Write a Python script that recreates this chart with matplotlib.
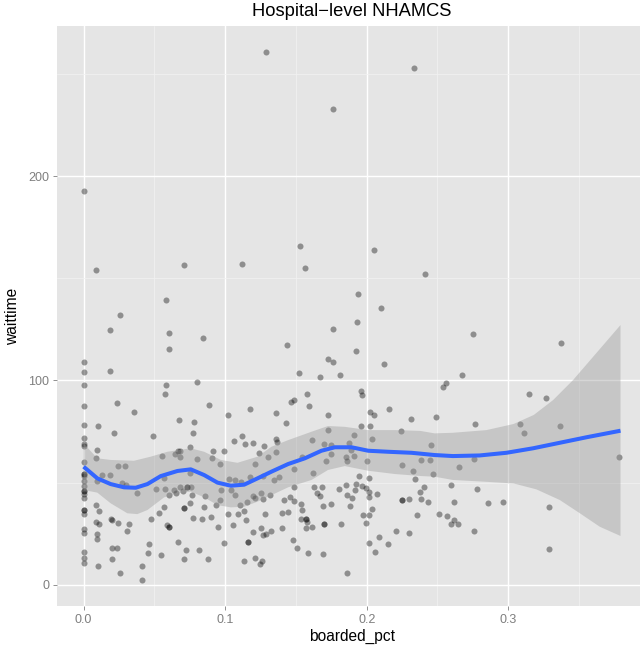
import numpy as np
import matplotlib
matplotlib.use("Agg")
import matplotlib.pyplot as plt

plt.rcParams['font.family'] = ['Liberation Sans', 'DejaVu Sans']

# boarded share vs. wait time, one row per hospital
boarded_pct = [
    0, 0, 0, 0, 0, 0, 0, 0, 0, 0, 0, 0, 0, 0, 0, 0, 0, 0, 0, 0, 0, 0, 0, 0, 0, 0, 0,
    0.0089, 0.0711, 0.1118, 0.0582, 0.0254, 0.0190,
    0.1289, 0.2336, 0.1761, 0.1530, 0.1563, 0.2054, 0.2415, 0.1941, 0.2103, 0.1934, 0.1760,
    0.0603, 0.0603, 0.0190, 0.0580, 0.0575, 0.0237, 0.0354, 0.0674, 0.0101, 0.0218, 0.0491,
    0.0094, 0.0089, 0.0556, 0.0646, 0.0669,
    0.0847, 0.1434, 0.1521, 0.0803, 0.0887, 0.0777, 0.0775, 0.1019, 0.1174, 0.1357, 0.1463,
    0.1486, 0.1430, 0.1063, 0.1122, 0.1139, 0.1195, 0.1359, 0.1366, 0.1272, 0.1239, 0.1305,
    0.1360, 0.0751, 0.0913, 0.0995, 0.0683, 0.0683, 0.0803, 0.0904,
    0.1925, 0.1730, 0.1765, 0.2122, 0.1667, 0.1810, 0.1580, 0.1589, 0.1725, 0.1960, 0.1965,
    0.2026, 0.2049, 0.2157, 0.2312, 0.1960, 0.2021, 0.1730, 0.2239, 0.1911, 0.2037, 0.1615,
    0.1700, 0.1746, 0.1873, 0.1887, 0.1746, 0.1542, 0.1854, 0.1911,
    0.2754, 0.3371, 0.2674, 0.2559, 0.2542, 0.3146, 0.3268, 0.2491, 0.2768, 0.3080, 0.3113,
    0.3364, 0.2453, 0.2382, 0.2444, 0.2758, 0.2655, 0.3780, 0.2470, 0.2596, 0.2777, 0.2404,
    0.2378, 0.2387, 0.2432, 0.2617, 0.2859, 0.2960, 0.2514, 0.2570, 0.2617, 0.2593, 0.2645,
    0.2755, 0.3289, 0.3286,
    0.0241, 0.0296, 0.0132, 0.0185, 0.0096, 0.0272, 0.0303, 0.0375, 0.0512, 0.0573, 0.0570,
    0.0603, 0.0641, 0.0653, 0.0087, 0.0106, 0.0570, 0.0530, 0.0197, 0.0200, 0.0241, 0.0087,
    0.0106, 0.0319, 0.0310, 0.0479, 0.0587, 0.0606, 0.0606, 0.0094, 0.0094, 0.0664, 0.0460,
    0.0199, 0.0239, 0.0453, 0.0547, 0.0202, 0.0099, 0.0415, 0.0254, 0.0415,
    0.0965, 0.1211, 0.0754, 0.1028, 0.1073, 0.1113, 0.1178, 0.1265, 0.1347, 0.1380, 0.1486,
    0.0681, 0.0704, 0.0730, 0.0730, 0.0760, 0.0765, 0.0861, 0.0969, 0.1039, 0.1069, 0.0966,
    0.0937, 0.0852, 0.0749, 0.0711, 0.0711, 0.1108, 0.1155, 0.1197, 0.1213, 0.1251, 0.1270,
    0.1319, 0.1134, 0.1023, 0.1094, 0.1284, 0.1415, 0.1458, 0.1486, 0.1486, 0.1403, 0.1444,
    0.0775, 0.0838, 0.0897, 0.1149, 0.0953, 0.1054, 0.1195, 0.1251, 0.1265, 0.1286, 0.1324,
    0.1401, 0.1477, 0.1507, 0.1159, 0.1159, 0.0995, 0.0725, 0.0814, 0.0711, 0.0878, 0.1134,
    0.1213, 0.1263, 0.1249,
    0.1713, 0.1859, 0.1999, 0.2249, 0.1622, 0.1949, 0.2018, 0.2324, 0.2338, 0.1629, 0.1683,
    0.1805, 0.1854, 0.1923, 0.1915, 0.1965, 0.1998, 0.2016, 0.2071, 0.1648, 0.1667, 0.1861,
    0.1899, 0.2016, 0.1537, 0.1544, 0.1750, 0.1694, 0.1879, 0.2246, 0.2246, 0.2300, 0.2040,
    0.1977, 0.2016, 0.2354, 0.1998, 0.1533, 0.1570, 0.1570, 0.1575, 0.1700, 0.1700, 0.1817,
    0.1570, 0.1617, 0.2209, 0.2298, 0.2089, 0.2016, 0.2152, 0.2056, 0.1587, 0.1690, 0.1859,
]
waittime = [
    192.8, 109.2, 103.9, 97.9, 87.3, 78.3, 71.9, 69.0, 67.8, 60.0, 54.3, 54.3, 53.4, 51.0,
    48.5, 46.0, 46.0, 44.5, 42.3, 36.8, 36.8, 34.7, 27.3, 25.6, 16.3, 12.9, 10.9,
    154.0, 156.5, 157.0, 139.5, 131.9, 124.5,
    260.6, 253.0, 232.7, 166.0, 155.0, 163.6, 152.0, 142.3, 135.3, 128.6, 125.3,
    123.0, 115.2, 104.7, 97.9, 93.5, 88.9, 84.7, 80.4, 77.9, 74.2, 72.9,
    66.0, 61.9, 63.2, 64.0, 65.7,
    120.7, 117.2, 103.6, 99.2, 87.9, 79.9, 74.4, 83.0, 85.8, 84.0, 89.6,
    90.3, 79.3, 70.6, 72.7, 69.1, 69.6, 71.2, 70.0, 67.8, 64.4, 62.7,
    64.9, 67.2, 65.5, 65.5, 65.3, 62.7, 61.4, 62.1,
    114.4, 110.3, 109.2, 107.8, 101.6, 102.6, 93.3, 87.4, 83.2, 94.6, 92.8,
    84.5, 83.0, 85.8, 80.9, 77.6, 77.6, 75.6, 75.3, 73.4, 71.2, 71.1,
    69.0, 68.3, 69.5, 66.2, 64.0, 62.4, 62.7, 62.9,
    122.9, 118.5, 102.6, 98.7, 96.9, 93.6, 91.2, 81.9, 78.6, 78.8, 74.2,
    77.5, 68.3, 61.1, 61.1, 61.6, 57.8, 62.3, 54.1, 49.0, 47.1, 47.9,
    45.6, 42.0, 40.3, 40.7, 40.0, 40.7, 34.5, 33.5, 31.5, 29.7, 30.0,
    26.5, 37.9, 17.5,
    58.0, 58.2, 53.9, 53.9, 50.6, 49.9, 48.9, 44.8, 47.1, 46.9, 52.1,
    43.8, 46.6, 44.9, 39.2, 35.9, 37.9, 35.1, 32.2, 31.8, 30.4, 30.7,
    29.6, 29.9, 26.1, 32.2, 29.3, 28.1, 28.1, 24.8, 22.2, 21.1, 20.2,
    18.1, 18.1, 15.8, 14.6, 12.4, 9.3, 9.0, 5.7, 2.3,
    59.2, 59.2, 54.6, 51.8, 51.3, 50.1, 52.6, 53.1, 51.3, 52.9, 56.9,
    47.7, 45.7, 47.7, 47.7, 47.7, 44.1, 43.5, 46.4, 46.4, 44.1, 41.5,
    39.0, 38.2, 40.2, 37.4, 37.4, 38.9, 40.4, 43.6, 42.6, 45.1, 42.2,
    44.1, 36.3, 34.7, 34.8, 34.5, 41.3, 42.8, 40.8, 47.7, 35.1, 35.4,
    32.7, 32.2, 33.3, 31.5, 28.3, 29.3, 26.0, 27.9, 24.4, 24.8, 26.1,
    27.9, 21.7, 17.8, 21.1, 21.1, 20.3, 16.8, 16.8, 12.6, 12.6, 11.6,
    13.1, 11.9, 10.4,
    60.4, 60.4, 60.6, 58.8, 54.9, 53.4, 52.3, 55.7, 51.8, 48.0, 47.7,
    47.1, 48.9, 49.5, 46.4, 48.4, 47.4, 45.6, 44.6, 44.8, 43.6, 43.8,
    42.3, 42.8, 39.6, 36.8, 39.6, 38.4, 38.4, 41.5, 41.5, 42.0, 37.1,
    34.2, 34.3, 34.0, 30.4, 32.0, 32.0, 32.0, 30.9, 29.8, 29.8, 29.8,
    27.6, 28.1, 26.5, 25.6, 23.5, 20.3, 20.0, 16.2, 15.7, 15.2, 5.9,
]

# loess fit and its 95% band
fit_x = [0, 0.0097, 0.0191, 0.0286, 0.0368, 0.0451, 0.0545, 0.0663, 0.0757, 0.0852,
         0.0946, 0.1040, 0.1134, 0.1229, 0.1328, 0.1445, 0.1563, 0.1680, 0.1775, 0.1893,
         0.2011, 0.2152, 0.2317, 0.2480, 0.2609, 0.2798, 0.2987, 0.3175, 0.3364, 0.3553,
         0.3793]
fit_y = [57.8, 52.1, 49.3, 47.7, 47.5, 49.3, 53.2, 55.7, 56.5, 53.7,
         50.0, 48.5, 49.0, 52.1, 55.4, 59.1, 61.9, 65.6, 67.3, 67.3,
         65.6, 65.1, 64.6, 63.5, 63.0, 63.3, 64.6, 66.8, 69.5, 72.2,
         75.4]
upper_x = [0, 0.0097, 0.0191, 0.0356, 0.0474, 0.0592, 0.0757, 0.0852, 0.0970, 0.1087,
           0.1229, 0.1328, 0.1445, 0.1610, 0.1727, 0.1845, 0.2011, 0.2200, 0.2380, 0.2480,
           0.2609, 0.2846, 0.3038, 0.3180, 0.3317, 0.3458, 0.3600, 0.3793]
upper_y = [69.2, 61.9, 61.1, 60.7, 62.7, 65.1, 66.8, 65.1, 61.1, 59.7,
           62.7, 67.6, 70.8, 74.9, 77.7, 77.3, 75.7, 75.7, 75.3, 74.1,
           74.4, 75.7, 78.7, 83.1, 90.4, 100.2, 111.6, 127.1]
lower_x = [0, 0.0097, 0.0191, 0.0309, 0.0380, 0.0451, 0.0569, 0.0663, 0.0757, 0.0852,
           0.0946, 0.1040, 0.1134, 0.1229, 0.1328, 0.1445, 0.1610, 0.1727, 0.1845, 0.2011,
           0.2200, 0.2389, 0.2480, 0.2609, 0.2846, 0.3038, 0.3199, 0.3364, 0.3506, 0.3647,
           0.3793]
lower_y = [46.4, 45.1, 39.9, 35.0, 34.6, 36.6, 42.8, 44.8, 45.6, 42.8,
           39.0, 37.9, 38.2, 40.7, 43.9, 47.7, 51.3, 56.2, 58.1, 55.8,
           54.2, 53.2, 52.9, 51.3, 50.4, 49.6, 46.7, 41.5, 35.0, 28.4,
           23.9]

x_ticks = [0.0, 0.1, 0.2, 0.3]
x_labels = ['0.0', '0.1', '0.2', '0.3']
y_ticks = [0, 100, 200]

fig = plt.figure(figsize=(6.4, 6.47), dpi=100)
# panel runs a little past the right edge of the canvas
ax = fig.add_axes([0.0886, 0.0626, 0.9223, 0.8972])
ax.set_facecolor('#E5E5E5')

ax.scatter(boarded_pct, waittime, s=19, color='black', alpha=0.38, linewidths=0, zorder=3)

band_x = np.concatenate([upper_x, lower_x[::-1]])
band_y = np.concatenate([upper_y, lower_y[::-1]])
ax.fill(band_x, band_y, color='#999999', alpha=0.4, linewidth=0, zorder=4)
ax.plot(fit_x, fit_y, color='#3366FF', lw=2.9, solid_capstyle='butt', zorder=5)

ax.set_xlim(-0.019, 0.398)
ax.set_ylim(-10.6, 273.4)
ax.set_xticks(x_ticks)
ax.set_xticklabels(x_labels)
ax.set_xticks([0.05, 0.15, 0.25, 0.35], minor=True)
ax.set_yticks(y_ticks)
ax.set_yticks([50, 150, 250], minor=True)

ax.grid(which='major', color='white', lw=1.0)
ax.grid(which='minor', color='#F2F2F2', lw=0.5)
ax.set_axisbelow(True)
for s in ax.spines.values():
    s.set_visible(False)

ax.tick_params(which='major', length=3, width=0.6, color='#7F7F7F',
               labelcolor='#7F7F7F', labelsize=9, pad=2.5)
ax.tick_params(which='minor', length=0)

ax.set_xlabel('boarded_pct', fontsize=11.2, labelpad=2)
ax.set_ylabel('waittime', fontsize=11.2, labelpad=6)
ax.set_title('Hospital\u2212level NHAMCS', fontsize=13.2, pad=7)

fig.savefig('out.png', dpi=100)
